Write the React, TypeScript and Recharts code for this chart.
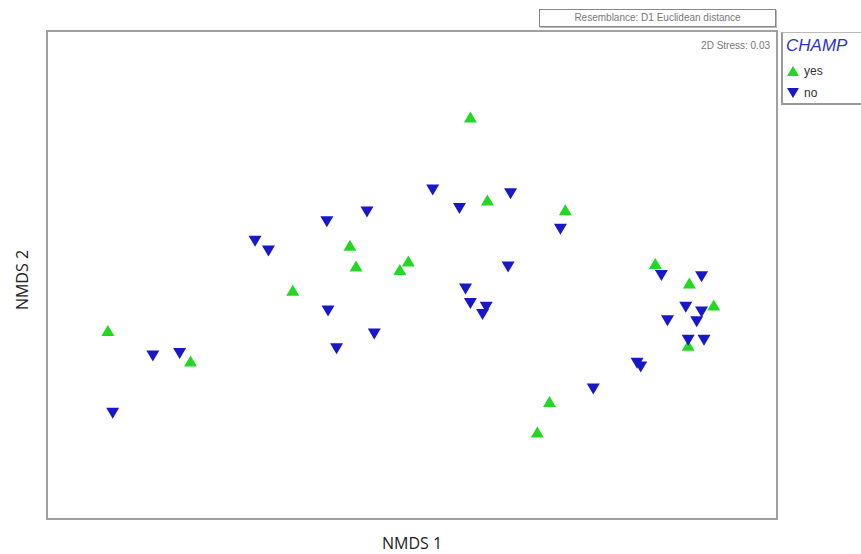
import React from 'react'
import {
  ScatterChart,
  Scatter,
  XAxis,
  YAxis,
  ReferenceArea,
} from 'recharts'

// NMDS ordination coordinates
const yesX = [0.48, 0.62, 1.26, -0.51, -0.46, -0.03, -0.1, -0.98, -2.5, -1.82, 1.13, 1.03, 2.0, 2.28, 2.48, 2.27]
const yesY = [1.29, 0.61, 0.53, 0.24, 0.07, 0.11, 0.04, -0.13, -0.46, -0.71, -1.04, -1.29, 0.09, -0.07, -0.25, -0.58]

const noX = [
  0.17, 0.39, 0.81, 1.22, -0.7, -0.37, -1.29, -1.18, 0.79, 0.44, 0.48, 0.61, 0.58, -0.69, -0.62,
  -0.31, -2.13, -1.91, -2.46, 1.49, 1.85, 1.88, 2.05, 2.38, 2.25, 2.38, 2.1, 2.34, 2.27, 2.4,
]
const noY = [
  0.7, 0.55, 0.67, 0.38, 0.44, 0.52, 0.28, 0.2, 0.07, -0.11, -0.23, -0.26, -0.32, -0.29, -0.6,
  -0.48, -0.66, -0.64, -1.13, -0.93, -0.72, -0.75, 0.0, -0.01, -0.26, -0.3, -0.37, -0.38, -0.53, -0.53,
]

const yesData = yesX.map((x, i) => ({ x, y: yesY[i] }))
const noData = noX.map((x, i) => ({ x, y: noY[i] }))

const GREEN = '#22d822'
const BLUE = '#1818c8'

const TriUp = (props: any) => {
  const { cx, cy } = props
  return <path d={`M${cx},${cy - 6} L${cx + 6.5},${cy + 5} L${cx - 6.5},${cy + 5} Z`} fill={GREEN} />
}

const TriDown = (props: any) => {
  const { cx, cy } = props
  return <path d={`M${cx - 6.5},${cy - 5} L${cx + 6.5},${cy - 5} L${cx},${cy + 6} Z`} fill={BLUE} />
}

const small: React.CSSProperties = {
  position: 'absolute',
  fontFamily: 'Liberation Sans, Arial, sans-serif',
  fontSize: 10,
  color: '#777',
  whiteSpace: 'nowrap',
}

export default function App() {
  return (
    <div style={{ position: 'fixed', left: 0, top: 0, width: 861, height: 554, background: '#fff' }}>
      <ScatterChart width={861} height={554} margin={{ top: 31, right: 84, left: 47, bottom: 35 }}>
        <XAxis type="number" dataKey="x" domain={[-3, 3]} hide />
        <YAxis type="number" dataKey="y" domain={[-2, 2]} hide />
        <ReferenceArea x1={-3} x2={3} y1={-2} y2={2} fill="none" stroke="#a0a0a0" strokeWidth={2} />
        <Scatter data={yesData} shape={<TriUp />} isAnimationActive={false} />
        <Scatter data={noData} shape={<TriDown />} isAnimationActive={false} />
      </ScatterChart>

      <div
        style={{
          ...small,
          left: 539,
          top: 9,
          width: 235,
          height: 16,
          border: '1px solid #888',
          boxShadow: '1px 1px 0 #bbb',
          lineHeight: '16px',
          textAlign: 'center',
        }}
      >
        Resemblance: D1 Euclidean distance
      </div>
      <div style={{ ...small, right: 861 - 770, top: 40 }}>2D Stress: 0.03</div>

      <div
        style={{
          position: 'absolute',
          left: 781,
          top: 32,
          width: 90,
          height: 70,
          borderLeft: '2px solid #999',
          borderBottom: '2px solid #999',
          borderTop: '1px solid #bbb',
          fontFamily: 'Liberation Sans, Arial, sans-serif',
        }}
      >
        <div style={{ position: 'absolute', left: 3, top: 3, fontSize: 17, fontStyle: 'italic', color: '#3030d0' }}>
          CHAMP
        </div>
        <svg style={{ position: 'absolute', left: 2, top: 32 }} width={16} height={36}>
          <path d="M8,1 L14,11 L2,11 Z" fill={GREEN} />
          <path d="M2,23 L14,23 L8,33 Z" fill={BLUE} />
        </svg>
        <div style={{ position: 'absolute', left: 21, top: 31, fontSize: 12, color: '#333' }}>yes</div>
        <div style={{ position: 'absolute', left: 21, top: 53, fontSize: 12, color: '#333' }}>no</div>
      </div>

      <div
        style={{
          position: 'absolute',
          left: 362,
          top: 532,
          width: 100,
          textAlign: 'center',
          fontFamily: 'Open Sans, sans-serif',
          fontSize: 16,
          color: '#222',
        }}
      >
        NMDS 1
      </div>
      <div
        style={{
          position: 'absolute',
          left: 22,
          top: 280,
          transform: 'translate(-50%, -50%) rotate(-90deg)',
          fontFamily: 'Open Sans, sans-serif',
          fontSize: 16,
          color: '#222',
          whiteSpace: 'nowrap',
        }}
      >
        NMDS 2
      </div>
    </div>
  )
}
